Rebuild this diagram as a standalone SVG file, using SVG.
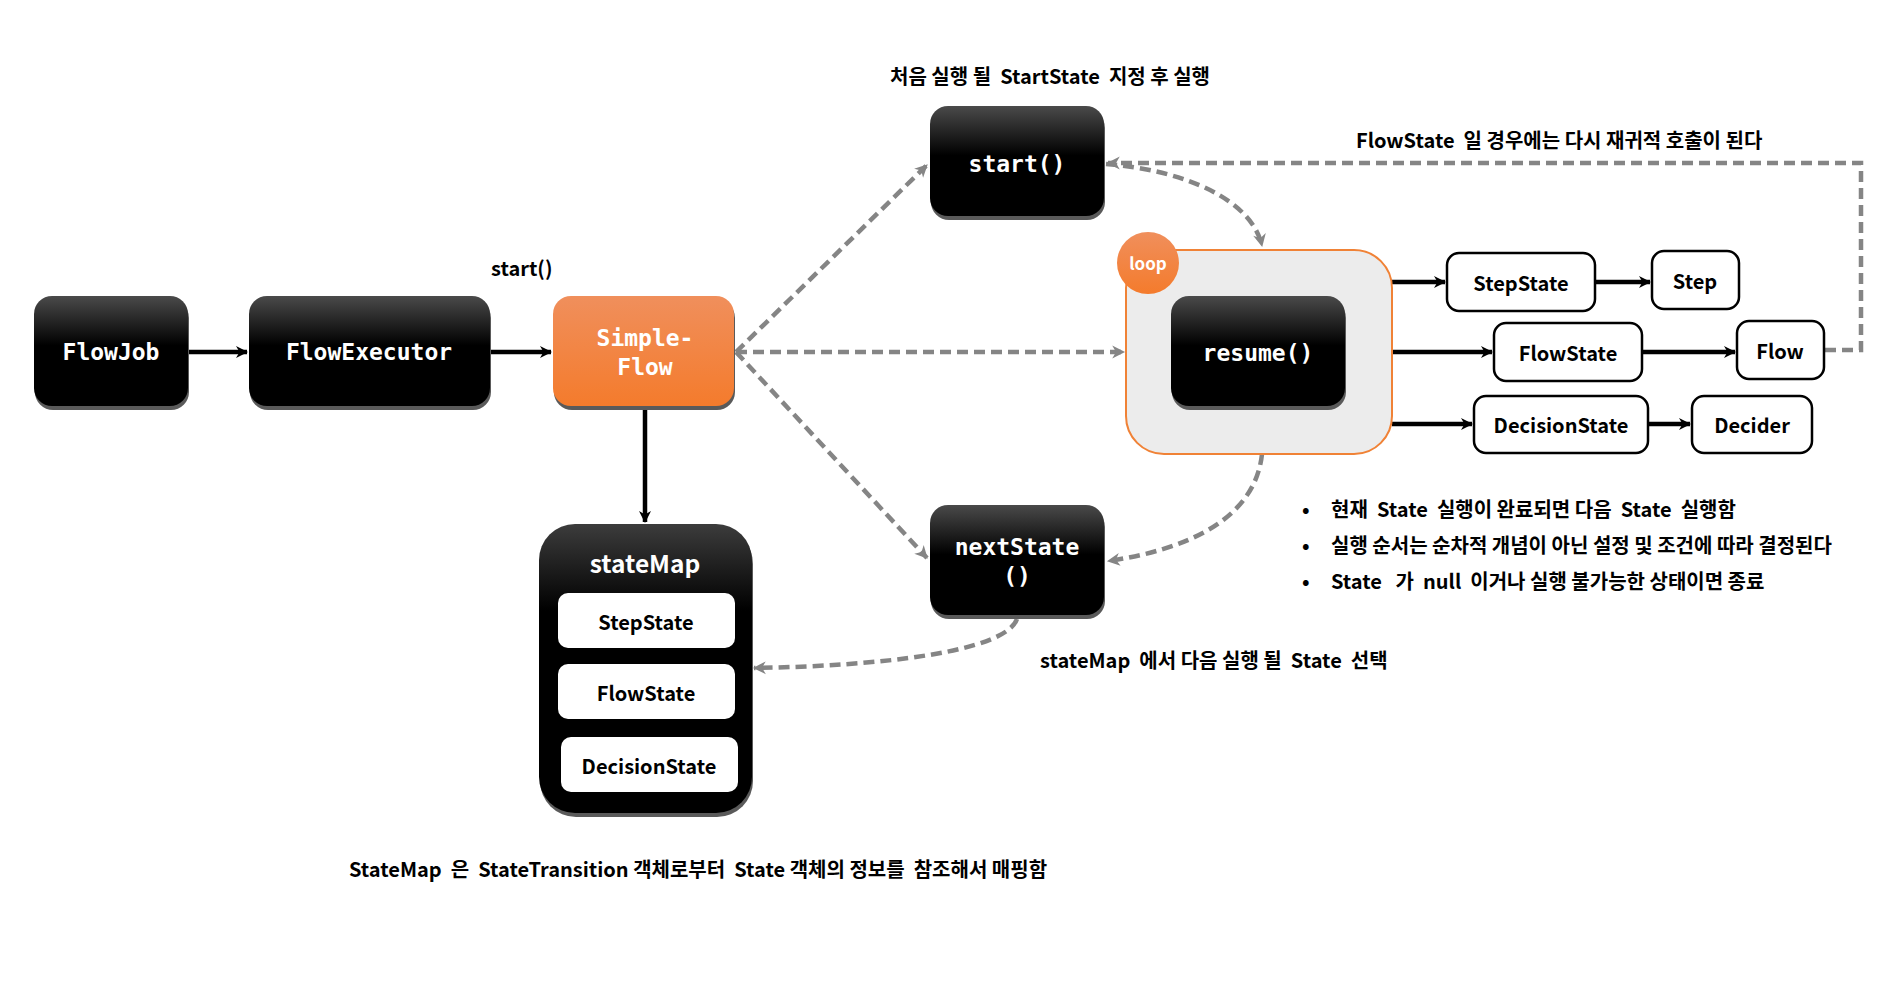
<svg xmlns="http://www.w3.org/2000/svg" width="1902" height="993" viewBox="0 0 1902 993">
<defs>
  <linearGradient id="gBlack" x1="0" y1="0" x2="0" y2="1">
    <stop offset="0" stop-color="#4a4a4a"/>
    <stop offset="0.45" stop-color="#000"/>
    <stop offset="1" stop-color="#000"/>
  </linearGradient>
  <linearGradient id="gMap" x1="0" y1="0" x2="0" y2="1">
    <stop offset="0" stop-color="#3c3c3c"/>
    <stop offset="0.3" stop-color="#000"/>
    <stop offset="1" stop-color="#000"/>
  </linearGradient>
  <linearGradient id="gOrange" x1="0" y1="0" x2="0" y2="1">
    <stop offset="0" stop-color="#f08f5c"/>
    <stop offset="1" stop-color="#f47b2c"/>
  </linearGradient>
  <marker id="arrB" viewBox="0 0 14 14" refX="12" refY="7" markerWidth="14" markerHeight="14" orient="auto" markerUnits="userSpaceOnUse">
    <path d="M1,1 L13,7 L1,13 L4.5,7 z" fill="#000"/>
  </marker>
  <marker id="arrG" viewBox="0 0 14 14" refX="12" refY="7" markerWidth="15" markerHeight="15" orient="auto" markerUnits="userSpaceOnUse">
    <path d="M1,1 L13,7 L1,13 L4.5,7 z" fill="#858585"/>
  </marker>
  <style>
    .shadow { fill: #5a5a5a; }
    .blk { fill: url(#gBlack); }
    .mono { font-family: "DejaVu Sans Mono", "Liberation Mono", monospace; font-weight: bold; font-size: 23px; fill: #fff; text-anchor: middle; dominant-baseline: central; }
    .lbl { font-family: "Noto Sans CJK KR", "Noto Sans", sans-serif; font-weight: 700; font-size: 20px; fill: #000; white-space: pre; }
    .wbox { fill: #fff; stroke: #000; stroke-width: 2.5; }
    .wtxt { font-family: "Noto Sans CJK KR", "Noto Sans", sans-serif; font-weight: 700; font-size: 20px; fill: #000; text-anchor: middle; dominant-baseline: central; }
    .solid { fill: none; stroke: #000; stroke-width: 4.5; marker-end: url(#arrB); }
    .dash { fill: none; stroke: #858585; stroke-width: 4.5; stroke-dasharray: 11 6; marker-end: url(#arrG); }
  </style>
</defs>
<rect width="1902" height="993" fill="#fff"/>

<g id="connectors">
  <path class="solid" d="M188,352 L247,352"/>
  <path class="solid" d="M490,352 L551,352"/>
  <path class="solid" d="M645,410 L645,522"/>
  <path class="dash" d="M736,352 L927,165"/>
  <path class="dash" d="M736,352 L1124,352"/>
  <path class="dash" d="M736,352 L927,558"/>
  <path class="dash" d="M1106,164 C1185,170 1252,200 1262,246"/>
  <path class="dash" d="M1825,350 L1861,350 L1861,163 L1108,163"/>
  <path class="dash" d="M1262,454 C1255,520 1185,550 1108,561"/>
  <path class="dash" d="M1017,619 C1005,652 880,666 754,668"/>
  <path class="solid" d="M1392,282 L1445,282"/>
  <path class="solid" d="M1392,352 L1492,352"/>
  <path class="solid" d="M1392,424 L1472,424"/>
  <path class="solid" d="M1596,282 L1650,282"/>
  <path class="solid" d="M1643,352 L1735,352"/>
  <path class="solid" d="M1648,424 L1690,424"/>
</g>

<g id="FlowJob">
  <rect class="shadow" x="35" y="300" width="154" height="110" rx="18"/>
  <rect class="blk" x="34" y="296" width="154" height="110" rx="18"/>
  <text class="mono" x="111" y="352">FlowJob</text>
</g>
<g id="FlowExecutor">
  <rect class="shadow" x="250" y="300" width="241" height="110" rx="18"/>
  <rect class="blk" x="249" y="296" width="241" height="110" rx="18"/>
  <text class="mono" x="369" y="352">FlowExecutor</text>
</g>
<g id="SimpleFlow">
  <rect class="shadow" x="554" y="300" width="181" height="110" rx="18"/>
  <rect x="553" y="296" width="181" height="110" rx="18" fill="url(#gOrange)"/>
  <text class="mono" x="645" y="338">Simple-</text>
  <text class="mono" x="645" y="367">Flow</text>
</g>
<text class="lbl" x="491" y="276">start()</text>

<g id="stateMap">
  <rect x="540" y="528" width="213" height="289" rx="36" fill="#5a5a5a"/>
  <rect x="539" y="524" width="213" height="289" rx="36" fill="url(#gMap)"/>
  <text x="645" y="562" font-family="'Noto Sans CJK KR', 'Noto Sans', sans-serif" font-weight="700" font-size="24.5" fill="#fff" text-anchor="middle" dominant-baseline="central">stateMap</text>
  <g id="map-StepState">
    <rect x="558" y="593" width="177" height="55" rx="10" fill="#fff"/>
    <text class="wtxt" x="646" y="621">StepState</text>
  </g>
  <g id="map-FlowState">
    <rect x="558" y="664" width="177" height="55" rx="10" fill="#fff"/>
    <text class="wtxt" x="646" y="692">FlowState</text>
  </g>
  <g id="map-DecisionState">
    <rect x="561" y="737" width="177" height="55" rx="10" fill="#fff"/>
    <text class="wtxt" x="649" y="765">DecisionState</text>
  </g>
</g>

<g id="start">
  <rect class="shadow" x="931" y="110" width="174" height="110" rx="18"/>
  <rect class="blk" x="930" y="106" width="174" height="110" rx="18"/>
  <text class="mono" x="1017" y="164">start()</text>
</g>
<text class="lbl" x="890" y="84" xml:space="preserve">처음 실행 될  StartState  지정 후 실행</text>

<g id="nextState">
  <rect class="shadow" x="931" y="509" width="174" height="110" rx="18"/>
  <rect class="blk" x="930" y="505" width="174" height="110" rx="18"/>
  <text class="mono" x="1017" y="547">nextState</text>
  <text class="mono" x="1017" y="576">()</text>
</g>

<g id="loop">
  <rect x="1126" y="250" width="266" height="204" rx="38" fill="#ececec" stroke="#f08236" stroke-width="2"/>
  <g id="resume">
    <rect class="shadow" x="1172" y="300" width="174" height="110" rx="18"/>
    <rect class="blk" x="1171" y="296" width="174" height="110" rx="18"/>
    <text class="mono" x="1258" y="353">resume()</text>
  </g>
  <circle cx="1148" cy="263" r="31" fill="url(#gOrange)"/>
  <text x="1148" y="262" font-family="'Noto Sans CJK KR', 'Noto Sans', sans-serif" font-weight="700" font-size="17" fill="#fff" text-anchor="middle" dominant-baseline="central">loop</text>
</g>

<g id="StepState">
  <rect class="wbox" x="1447" y="253" width="148" height="58" rx="12"/>
  <text class="wtxt" x="1521" y="282">StepState</text>
</g>
<g id="Step">
  <rect class="wbox" x="1652" y="251" width="87" height="58" rx="12"/>
  <text class="wtxt" x="1695" y="280">Step</text>
</g>
<g id="FlowState">
  <rect class="wbox" x="1494" y="323" width="148" height="58" rx="12"/>
  <text class="wtxt" x="1568" y="352">FlowState</text>
</g>
<g id="Flow">
  <rect class="wbox" x="1737" y="321" width="87" height="58" rx="12"/>
  <text class="wtxt" x="1780" y="350">Flow</text>
</g>
<g id="DecisionState">
  <rect class="wbox" x="1474" y="396" width="174" height="57" rx="12"/>
  <text class="wtxt" x="1561" y="424">DecisionState</text>
</g>
<g id="Decider">
  <rect class="wbox" x="1692" y="396" width="120" height="57" rx="12"/>
  <text class="wtxt" x="1752" y="424">Decider</text>
</g>

<g id="labels">
  <text class="lbl" x="1356" y="148" xml:space="preserve">FlowState  일 경우에는 다시 재귀적 호출이 된다</text>
  <text class="lbl" x="1040" y="668" xml:space="preserve">stateMap  에서 다음 실행 될  State  선택</text>
  <text class="lbl" x="349" y="877" xml:space="preserve">StateMap  은  StateTransition 객체로부터  State 객체의 정보를  참조해서 매핑함</text>
  <text class="lbl" x="1302" y="517">•</text>
  <text class="lbl" x="1331" y="517" xml:space="preserve">현재  State  실행이 완료되면 다음  State  실행함</text>
  <text class="lbl" x="1302" y="553">•</text>
  <text class="lbl" x="1331" y="553" xml:space="preserve">실행 순서는 순차적 개념이 아닌 설정 및 조건에 따라 결정된다</text>
  <text class="lbl" x="1302" y="589">•</text>
  <text class="lbl" x="1331" y="589" xml:space="preserve">State   가  null  이거나 실행 불가능한 상태이면 종료</text>
</g>
</svg>
